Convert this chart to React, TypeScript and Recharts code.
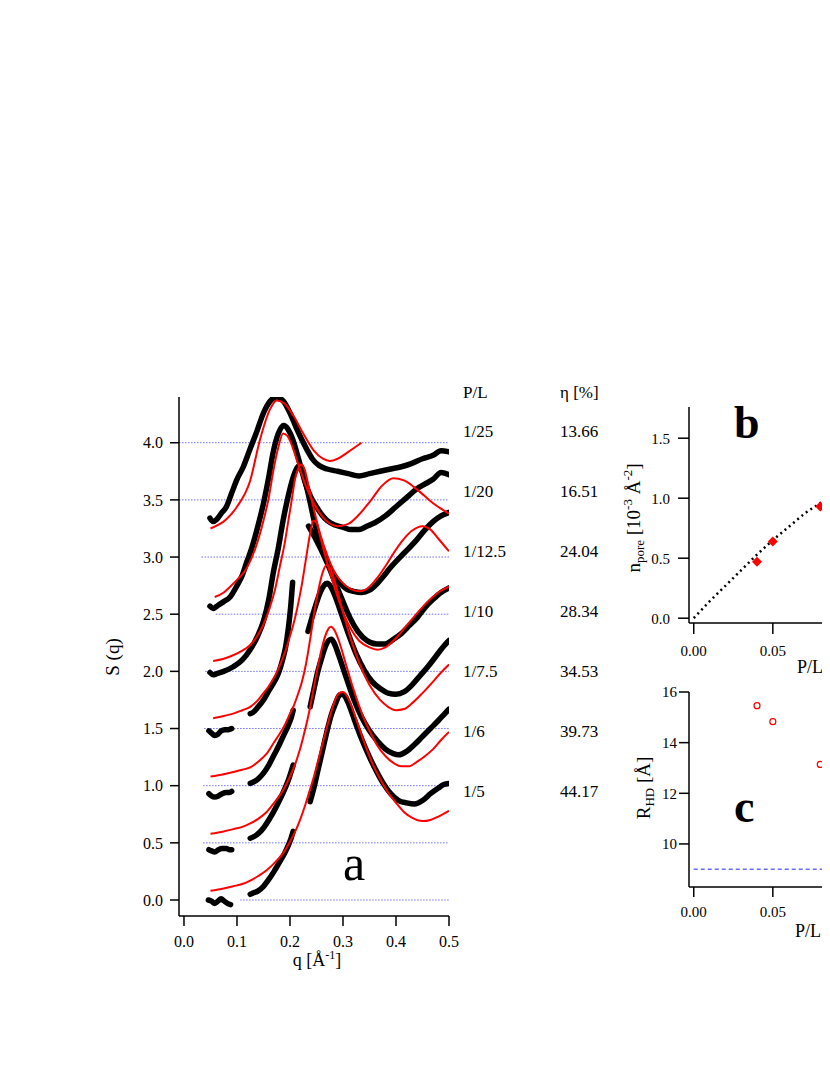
import React from "react";
import { ComposedChart, Line, Scatter, XAxis, YAxis } from "recharts";

const SERIF = "'Liberation Serif', 'Times New Roman', serif";

// ---- panel a : S(q), [q, S] pairs (curves already offset) ----
const data_1_25: [number, number][] = [
  [0.049, 3.34], [0.055, 3.31], [0.062, 3.33], [0.07, 3.38], [0.08, 3.44], [0.09, 3.56], [0.1, 3.68],
  [0.112, 3.79], [0.125, 3.95], [0.136, 4.08], [0.15, 4.26], [0.162, 4.36], [0.175, 4.4], [0.188, 4.36],
  [0.2, 4.26], [0.212, 4.13], [0.222, 4.03], [0.232, 3.94], [0.242, 3.86], [0.255, 3.8], [0.27, 3.77],
  [0.29, 3.75], [0.31, 3.73], [0.33, 3.71], [0.35, 3.73], [0.37, 3.75], [0.39, 3.77], [0.41, 3.79],
  [0.43, 3.82], [0.45, 3.86], [0.47, 3.89], [0.485, 3.93], [0.5, 3.92],
];
const fit_1_25: [number, number][] = [
  [0.05, 3.25], [0.08, 3.33], [0.1, 3.44], [0.125, 3.67], [0.143, 4.02], [0.162, 4.29], [0.175, 4.37],
  [0.19, 4.34], [0.206, 4.24], [0.225, 4.08], [0.245, 3.93], [0.262, 3.86], [0.275, 3.84], [0.29, 3.86],
  [0.31, 3.92], [0.335, 4.0],
];

const data_1_20: [number, number][] = [
  [0.049, 2.57], [0.055, 2.55], [0.065, 2.58], [0.075, 2.61], [0.087, 2.65], [0.1, 2.75], [0.11, 2.84],
  [0.118, 2.95], [0.128, 3.08], [0.14, 3.28], [0.15, 3.47], [0.16, 3.7], [0.168, 3.91], [0.178, 4.08],
  [0.188, 4.15], [0.196, 4.12], [0.205, 4.03], [0.213, 3.91], [0.222, 3.76], [0.231, 3.62], [0.24, 3.52],
  [0.25, 3.44], [0.26, 3.37], [0.27, 3.32], [0.285, 3.28], [0.3, 3.26], [0.315, 3.24], [0.33, 3.24],
  [0.345, 3.27], [0.36, 3.3], [0.38, 3.36], [0.4, 3.44], [0.42, 3.52], [0.44, 3.6], [0.455, 3.64],
  [0.47, 3.68], [0.485, 3.74], [0.5, 3.72],
];
const fit_1_20: [number, number][] = [
  [0.058, 2.65], [0.075, 2.69], [0.087, 2.74], [0.1, 2.8], [0.118, 2.9], [0.135, 3.08], [0.15, 3.32],
  [0.16, 3.52], [0.168, 3.74], [0.178, 3.96], [0.187, 4.08], [0.195, 4.06], [0.205, 3.96], [0.215, 3.82],
  [0.23, 3.62], [0.25, 3.43], [0.27, 3.31], [0.29, 3.27], [0.31, 3.29], [0.33, 3.37], [0.35, 3.48],
  [0.375, 3.63], [0.395, 3.69], [0.415, 3.67], [0.44, 3.59], [0.47, 3.47], [0.5, 3.38],
];

const data_1_12_5: [number, number][] = [
  [0.049, 1.99], [0.055, 1.97], [0.062, 1.98], [0.075, 2.0], [0.093, 2.04], [0.11, 2.1], [0.125, 2.19],
  [0.14, 2.32], [0.15, 2.44], [0.16, 2.63], [0.168, 2.85], [0.178, 3.08], [0.187, 3.32], [0.196, 3.52],
  [0.203, 3.65], [0.21, 3.75], [0.218, 3.8], [0.225, 3.73], [0.231, 3.62], [0.238, 3.48], [0.244, 3.35],
  [0.253, 3.19], [0.263, 3.05], [0.272, 2.94], [0.282, 2.85], [0.295, 2.77], [0.307, 2.72], [0.32, 2.7],
  [0.335, 2.69], [0.35, 2.71], [0.365, 2.77], [0.376, 2.83], [0.39, 2.91], [0.408, 3.0], [0.425, 3.08],
  [0.439, 3.15], [0.455, 3.24], [0.47, 3.31], [0.485, 3.36], [0.5, 3.39],
];
const fit_1_12_5: [number, number][] = [
  [0.055, 2.09], [0.075, 2.11], [0.087, 2.13], [0.106, 2.17], [0.125, 2.23], [0.137, 2.3], [0.15, 2.41],
  [0.162, 2.56], [0.172, 2.72], [0.181, 2.92], [0.19, 3.12], [0.197, 3.32], [0.204, 3.52], [0.209, 3.67],
  [0.215, 3.77], [0.222, 3.81], [0.228, 3.76], [0.235, 3.62], [0.245, 3.42], [0.257, 3.2], [0.27, 3.02],
  [0.285, 2.86], [0.3, 2.77], [0.315, 2.72], [0.332, 2.7], [0.35, 2.74], [0.365, 2.82], [0.38, 2.92],
  [0.395, 3.03], [0.41, 3.13], [0.43, 3.23], [0.45, 3.27], [0.465, 3.24], [0.48, 3.16], [0.5, 3.05],
];

const data_1_10_low: [number, number][] = [
  [0.047, 1.48], [0.052, 1.46], [0.058, 1.44], [0.064, 1.45], [0.07, 1.48], [0.077, 1.49], [0.084, 1.49], [0.09, 1.5],
];
const data_1_10_mid: [number, number][] = [
  [0.125, 1.63], [0.13, 1.64], [0.14, 1.69], [0.15, 1.75], [0.16, 1.83], [0.168, 1.89], [0.178, 1.98],
  [0.186, 2.1], [0.192, 2.22], [0.197, 2.38], [0.201, 2.55], [0.205, 2.78],
];
const data_1_10_high: [number, number][] = [
  [0.235, 3.27], [0.245, 3.19], [0.257, 3.08], [0.27, 2.95], [0.285, 2.78], [0.3, 2.61], [0.313, 2.47],
  [0.328, 2.35], [0.345, 2.27], [0.364, 2.24], [0.38, 2.24], [0.395, 2.28], [0.41, 2.33], [0.425, 2.4],
  [0.44, 2.47], [0.455, 2.56], [0.47, 2.63], [0.485, 2.69], [0.5, 2.73],
];
const fit_1_10: [number, number][] = [
  [0.055, 1.59], [0.075, 1.61], [0.093, 1.63], [0.11, 1.66], [0.125, 1.69], [0.14, 1.75], [0.15, 1.81],
  [0.16, 1.87], [0.168, 1.93], [0.176, 2.0], [0.185, 2.1], [0.193, 2.2], [0.2, 2.31], [0.207, 2.42],
  [0.214, 2.56], [0.222, 2.75], [0.23, 2.98], [0.237, 3.18], [0.244, 3.32], [0.25, 3.3], [0.258, 3.16],
  [0.27, 2.95], [0.285, 2.72], [0.3, 2.52], [0.315, 2.37], [0.33, 2.27], [0.35, 2.21], [0.365, 2.19],
  [0.38, 2.21], [0.4, 2.29], [0.42, 2.4], [0.44, 2.51], [0.46, 2.61], [0.48, 2.69], [0.5, 2.74],
];

const data_1_7_5_low: [number, number][] = [
  [0.047, 0.93], [0.052, 0.91], [0.058, 0.9], [0.065, 0.91], [0.072, 0.93], [0.08, 0.94], [0.086, 0.94], [0.09, 0.95],
];
const data_1_7_5_mid: [number, number][] = [
  [0.125, 1.02], [0.13, 1.03], [0.14, 1.06], [0.15, 1.11], [0.16, 1.18], [0.17, 1.27], [0.18, 1.36],
  [0.19, 1.46], [0.197, 1.53], [0.202, 1.59], [0.206, 1.66],
];
const data_1_7_5_high: [number, number][] = [
  [0.234, 2.35], [0.242, 2.48], [0.25, 2.6], [0.258, 2.7], [0.264, 2.75], [0.27, 2.77], [0.277, 2.74],
  [0.285, 2.66], [0.295, 2.53], [0.31, 2.33], [0.325, 2.15], [0.34, 2.01], [0.355, 1.91], [0.37, 1.85],
  [0.385, 1.81], [0.4, 1.8], [0.415, 1.82], [0.43, 1.88], [0.445, 1.96], [0.46, 2.04], [0.475, 2.13],
  [0.49, 2.22], [0.5, 2.27],
];
const fit_1_7_5: [number, number][] = [
  [0.05, 1.08], [0.075, 1.1], [0.093, 1.12], [0.11, 1.14], [0.125, 1.16], [0.14, 1.21], [0.156, 1.28],
  [0.17, 1.38], [0.18, 1.45], [0.19, 1.53], [0.2, 1.63], [0.208, 1.71], [0.215, 1.8], [0.222, 1.9],
  [0.23, 2.06], [0.238, 2.28], [0.246, 2.52], [0.254, 2.72], [0.262, 2.87], [0.269, 2.93], [0.276, 2.9],
  [0.285, 2.78], [0.3, 2.52], [0.315, 2.28], [0.33, 2.08], [0.35, 1.88], [0.37, 1.75], [0.385, 1.69],
  [0.4, 1.66], [0.415, 1.67], [0.43, 1.72], [0.45, 1.81], [0.47, 1.91], [0.485, 1.99], [0.5, 2.06],
];

const data_1_6_low: [number, number][] = [
  [0.047, 0.44], [0.052, 0.43], [0.058, 0.42], [0.065, 0.44], [0.072, 0.45], [0.08, 0.45], [0.086, 0.44], [0.09, 0.44],
];
const data_1_6_mid: [number, number][] = [
  [0.125, 0.54], [0.13, 0.55], [0.14, 0.58], [0.15, 0.63], [0.16, 0.7], [0.17, 0.78], [0.18, 0.87],
  [0.19, 0.97], [0.197, 1.05], [0.202, 1.12], [0.206, 1.18],
];
const data_1_6_high: [number, number][] = [
  [0.238, 1.69], [0.245, 1.84], [0.252, 1.99], [0.26, 2.12], [0.267, 2.22], [0.273, 2.27], [0.278, 2.28],
  [0.284, 2.24], [0.292, 2.14], [0.305, 1.96], [0.32, 1.76], [0.335, 1.6], [0.35, 1.48], [0.365, 1.39],
  [0.38, 1.32], [0.395, 1.28], [0.405, 1.27], [0.42, 1.3], [0.435, 1.36], [0.45, 1.43], [0.465, 1.5],
  [0.48, 1.57], [0.49, 1.62], [0.5, 1.67],
];
const fit_1_6: [number, number][] = [
  [0.05, 0.58], [0.075, 0.6], [0.093, 0.62], [0.11, 0.64], [0.125, 0.67], [0.14, 0.71], [0.156, 0.77],
  [0.17, 0.85], [0.187, 0.96], [0.2, 1.08], [0.21, 1.19], [0.219, 1.32], [0.228, 1.48], [0.236, 1.64],
  [0.245, 1.86], [0.253, 2.05], [0.261, 2.22], [0.269, 2.34], [0.277, 2.39], [0.284, 2.36], [0.292, 2.27],
  [0.305, 2.07], [0.32, 1.84], [0.335, 1.64], [0.35, 1.48], [0.365, 1.35], [0.38, 1.26], [0.395, 1.2],
  [0.41, 1.17], [0.425, 1.17], [0.44, 1.21], [0.455, 1.26], [0.47, 1.32], [0.485, 1.4], [0.5, 1.47],
];

const data_1_5_low: [number, number][] = [
  [0.046, 0.0], [0.052, -0.01], [0.058, -0.03], [0.064, -0.01], [0.07, 0.01], [0.076, -0.01], [0.082, -0.03], [0.088, -0.04],
];
const data_1_5_mid: [number, number][] = [
  [0.125, 0.05], [0.13, 0.06], [0.14, 0.08], [0.15, 0.12], [0.16, 0.18], [0.17, 0.25], [0.18, 0.33],
  [0.19, 0.41], [0.197, 0.48], [0.202, 0.54], [0.206, 0.6],
];
const data_1_5_high: [number, number][] = [
  [0.238, 0.86], [0.245, 0.98], [0.253, 1.14], [0.262, 1.32], [0.27, 1.48], [0.278, 1.62], [0.286, 1.72],
  [0.293, 1.79], [0.298, 1.8], [0.304, 1.78], [0.312, 1.7], [0.322, 1.57], [0.335, 1.41], [0.35, 1.25],
  [0.365, 1.11], [0.376, 1.02], [0.39, 0.93], [0.405, 0.87], [0.42, 0.85], [0.435, 0.84], [0.45, 0.87],
  [0.465, 0.93], [0.48, 0.98], [0.49, 1.01], [0.5, 1.02],
];
const fit_1_5: [number, number][] = [
  [0.05, 0.08], [0.075, 0.1], [0.093, 0.12], [0.11, 0.14], [0.125, 0.17], [0.14, 0.21], [0.156, 0.26],
  [0.17, 0.32], [0.187, 0.41], [0.2, 0.51], [0.21, 0.6], [0.219, 0.7], [0.228, 0.82], [0.236, 0.94],
  [0.244, 1.06], [0.252, 1.2], [0.26, 1.34], [0.269, 1.5], [0.278, 1.65], [0.286, 1.76], [0.293, 1.81],
  [0.3, 1.82], [0.307, 1.79], [0.315, 1.71], [0.325, 1.58], [0.34, 1.38], [0.355, 1.2], [0.37, 1.06],
  [0.385, 0.94], [0.4, 0.85], [0.415, 0.77], [0.43, 0.72], [0.45, 0.69], [0.465, 0.7], [0.48, 0.73], [0.5, 0.78],
];

// horizontal guide levels and where each one starts
const guideLevels = [0, 0.5, 1.0, 1.5, 2.0, 2.5, 3.0, 3.5, 4.0];
const guideStarts = [0.106, 0.036, 0.036, 0.038, 0.04, 0.06, 0.033, -0.0094, -0.0094];

const ratios = ["1/25", "1/20", "1/12.5", "1/10", "1/7.5", "1/6", "1/5"];
const etaValues = ["13.66", "16.51", "24.04", "28.34", "34.53", "39.73", "44.17"];

const qTicks = [0, 0.1, 0.2, 0.3, 0.4, 0.5];
const sTicks = [0, 0.5, 1, 1.5, 2, 2.5, 3, 3.5, 4];

// ---- panels b and c (cut off at the right edge of the page) ----
const plPoints = [0.04, 0.05, 0.08];
const nPore = [0.47, 0.64, 0.93];
const rHD = [15.46, 14.83, 13.14];
const nFitPL = [0, 0.01, 0.02, 0.03, 0.04, 0.05, 0.06, 0.07, 0.08, 0.09, 0.1];
const nFitVal = [0, 0.14, 0.27, 0.4, 0.53, 0.65, 0.76, 0.87, 0.96, 1.05, 1.13];
const strayPoint = [{ x: 0.085, y: 0.62 }];
const rLimitPL = [0, 0.15];
const rLimit = 9.0;

const plTicks = [0, 0.05];
const nTicks = [0, 0.5, 1, 1.5];
const rTicks = [10, 12, 14, 16];

const pts = (arr: [number, number][]) => arr.map(([x, y]) => ({ x, y }));

const dataSets = [
  data_1_25, data_1_20, data_1_12_5,
  data_1_10_low, data_1_10_mid, data_1_10_high,
  data_1_7_5_low, data_1_7_5_mid, data_1_7_5_high,
  data_1_6_low, data_1_6_mid, data_1_6_high,
  data_1_5_low, data_1_5_mid, data_1_5_high,
];
const fitSets = [fit_1_25, fit_1_20, fit_1_12_5, fit_1_10, fit_1_7_5, fit_1_6, fit_1_5];

const axisStyle = { stroke: "#000", strokeWidth: 1.5 };

const Diamond = (p: any) => (
  <polygon
    points={`${p.cx},${p.cy - 5} ${p.cx + 5},${p.cy} ${p.cx},${p.cy + 5} ${p.cx - 5},${p.cy}`}
    fill="#ff0000"
  />
);
const Ring = (p: any) => <circle cx={p.cx} cy={p.cy} r={3} fill="#fff" stroke="#ff0000" strokeWidth={1.2} />;
const SmallDot = (p: any) => <circle cx={p.cx} cy={p.cy} r={1.6} fill="#000" />;

const PanelA = () => (
  <ComposedChart width={822} height={1067} margin={{ top: 389, right: 381, bottom: 129, left: 131 }}>
    <XAxis
      type="number" dataKey="x" domain={[-0.0094, 0.5]} allowDataOverflow ticks={qTicks} interval={0}
      height={30} tickFormatter={(v: number) => v.toFixed(1)} tickSize={10} tickMargin={10}
      axisLine={axisStyle} tickLine={axisStyle}
      tick={{ fill: "#000", fontSize: 16, fontFamily: SERIF }}
    />
    <YAxis
      type="number" dataKey="y" domain={[-0.14, 4.4]} allowDataOverflow ticks={sTicks} interval={0}
      width={40} tickFormatter={(v: number) => v.toFixed(1)} tickSize={9} tickMargin={7}
      axisLine={axisStyle} tickLine={axisStyle}
      tick={{ fill: "#000", fontSize: 16, fontFamily: SERIF }}
    />
    {guideLevels.map((lv, i) => (
      <Line
        key={"g" + i} data={[{ x: guideStarts[i], y: lv }, { x: 0.5, y: lv }]} dataKey="y"
        stroke="#6f6fff" strokeWidth={1} strokeDasharray="1.5 1.5" dot={false} activeDot={false}
        isAnimationActive={false}
      />
    ))}
    {dataSets.map((d, i) => (
      <Line
        key={"d" + i} data={pts(d)} dataKey="y" type="monotone" stroke="#000" strokeWidth={5.5}
        strokeLinecap="round" dot={false} activeDot={false} isAnimationActive={false}
      />
    ))}
    {fitSets.map((d, i) => (
      <Line
        key={"f" + i} data={pts(d)} dataKey="y" type="monotone" stroke="#ff0000" strokeWidth={2}
        dot={false} activeDot={false} isAnimationActive={false}
      />
    ))}
  </ComposedChart>
);

const PanelB = () => (
  <ComposedChart width={1000} height={1067} margin={{ top: 399, right: 77, bottom: 422, left: 641 }}>
    <XAxis
      type="number" dataKey="x" domain={[-0.003, 0.15]} allowDataOverflow ticks={plTicks} interval={0}
      height={30} tickFormatter={(v: number) => v.toFixed(2)} tickSize={11} tickMargin={11}
      axisLine={axisStyle} tickLine={axisStyle}
      tick={{ fill: "#000", fontSize: 15, fontFamily: SERIF }}
    />
    <YAxis
      type="number" dataKey="y" domain={[-0.04, 1.76]} allowDataOverflow ticks={nTicks} interval={0}
      width={40} tickFormatter={(v: number) => v.toFixed(1)} tickSize={11} tickMargin={8}
      axisLine={axisStyle} tickLine={axisStyle}
      tick={{ fill: "#000", fontSize: 15, fontFamily: SERIF }}
    />
    <Line
      data={nFitPL.map((x, i) => ({ x, y: nFitVal[i] }))} dataKey="y" type="monotone" stroke="#000"
      strokeWidth={2.5} strokeDasharray="2 3.5" dot={false} activeDot={false} isAnimationActive={false}
    />
    <Scatter
      data={plPoints.map((x, i) => ({ x, y: nPore[i] }))} dataKey="y" shape={Diamond}
      isAnimationActive={false}
    />
    <Scatter data={strayPoint} dataKey="y" shape={SmallDot} isAnimationActive={false} />
  </ComposedChart>
);

const PanelC = () => (
  <ComposedChart width={1000} height={1067} margin={{ top: 684, right: 77, bottom: 158, left: 641 }}>
    <XAxis
      type="number" dataKey="x" domain={[-0.003, 0.15]} allowDataOverflow ticks={plTicks} interval={0}
      height={30} tickFormatter={(v: number) => v.toFixed(2)} tickSize={10} tickMargin={9}
      axisLine={axisStyle} tickLine={axisStyle}
      tick={{ fill: "#000", fontSize: 15, fontFamily: SERIF }}
    />
    <YAxis
      type="number" dataKey="y" domain={[8.3, 16]} allowDataOverflow ticks={rTicks} interval={0}
      width={40} tickSize={10} tickMargin={2}
      axisLine={axisStyle} tickLine={axisStyle}
      tick={{ fill: "#000", fontSize: 15, fontFamily: SERIF }}
    />
    <Line
      data={rLimitPL.map((x) => ({ x, y: rLimit }))} dataKey="y" stroke="#6b6bff" strokeWidth={1.5}
      strokeDasharray="4 3" dot={false} activeDot={false} isAnimationActive={false}
    />
    <Scatter
      data={plPoints.map((x, i) => ({ x, y: rHD[i] }))} dataKey="y" shape={Ring}
      isAnimationActive={false}
    />
  </ComposedChart>
);

const abs: React.CSSProperties = { position: "absolute", left: 0, top: 0 };

export default function App() {
  return (
    <div style={{ position: "relative", width: 822, height: 1067, overflow: "hidden", background: "#fff" }}>
      <div style={abs}><PanelA /></div>
      <div style={abs}><PanelB /></div>
      <div style={abs}><PanelC /></div>
      <svg width={822} height={1067} style={{ ...abs, pointerEvents: "none" }} fontFamily={SERIF} fill="#000">
        {/* panel a titles */}
        <text transform="translate(111,649) rotate(-90)" textAnchor="middle" fontSize={19}>S (q)</text>
        <text x={309} y={958} textAnchor="middle" fontSize={18}>
          q [Å<tspan dy={-7} fontSize={12}>-1</tspan><tspan dy={7}>]</tspan>
        </text>
        <text x={346} y={872} textAnchor="middle" fontSize={50}>a</text>
        <text x={455} y={390} fontSize={17}>P/L</text>
        <text x={552} y={390} fontSize={17}>η [%]</text>
        {ratios.map((r, i) => (
          <text key={r} x={455} y={429 + 60 * i} fontSize={17}>{r}</text>
        ))}
        {etaValues.map((v, i) => (
          <text key={v} x={552} y={429 + 60 * i} fontSize={17}>{v}</text>
        ))}
        {/* panel b */}
        <text x={726} y={430} fontSize={46} fontWeight="bold">b</text>
        <text transform="translate(632,510) rotate(-90)" textAnchor="middle" fontSize={19}>
          n<tspan dy={4} fontSize={13}>pore</tspan><tspan dy={-4}> [10</tspan>
          <tspan dy={-8} fontSize={13}>-3</tspan><tspan dy={8}> Å</tspan>
          <tspan dy={-8} fontSize={13}>-2</tspan><tspan dy={8}>]</tspan>
        </text>
        <text x={802} y={665} textAnchor="middle" fontSize={18}>P/L</text>
        {/* panel c */}
        <text x={726} y={814} fontSize={46} fontWeight="bold">c</text>
        <text transform="translate(642,780) rotate(-90)" textAnchor="middle" fontSize={19}>
          R<tspan dy={4} fontSize={13}>HD</tspan><tspan dy={-4}> [Å]</tspan>
        </text>
        <text x={787} y={929} fontSize={18}>P/L<tspan dx={1}>[</tspan></text>
      </svg>
    </div>
  );
}
